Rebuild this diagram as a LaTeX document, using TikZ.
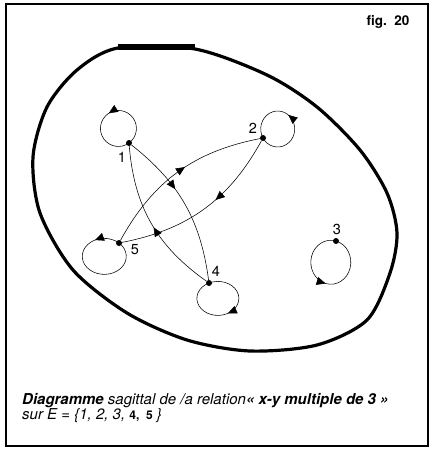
\documentclass[tikz,border=0pt]{standalone}
\usepackage{fontspec}
\setmainfont{TeX Gyre Heros}
\usetikzlibrary{arrows.meta,decorations.markings}

\tikzset{
  dot/.style={circle,fill,inner sep=0pt,minimum size=6pt},
  lab/.style={font=\fontsize{14.5}{14.5}\selectfont,inner sep=0pt},
  rel/.style={line width=0.55pt},
  tip/.style={postaction={decorate},decoration={markings,
    mark=at position #1 with {\arrow{Triangle[length=9pt,width=8pt]}}}}
}

\begin{document}
\begin{tikzpicture}[x=1pt,y=-1pt]
  \useasboundingbox (0,0) rectangle (433,449);
  \draw[line width=2pt] (6,4) rectangle (428,446);
  % the set E
  \draw[line width=3.2pt] plot[smooth cycle] coordinates {(118,48) (195,49) (267,75)
    (317,107) (360,150) (387,193) (397,233) (390,273) (367,320) (317,345)
    (250,351) (187,340) (127,313) (73,270) (40,213) (33,157) (47,107) (77,70)};
  \draw[line width=6pt] (118,47) -- (195,47);
  % elements
  \node[dot] (n1) at (129,143) {};
  \node[dot] (n2) at (263,138) {};
  \node[dot] (n3) at (336,241) {};
  \node[dot] (n4) at (209,283) {};
  \node[dot] (n5) at (119,243) {};
  \node[lab] (l1) at (122,157) {1};
  \node[lab] (l2) at (253,128) {2};
  \node[lab] (l3) at (337,229) {3};
  \node[lab] (l4) at (216,271) {4};
  \node[lab] (l5) at (135,250) {5};
  % loops
  \draw[rel,tip=0.49] (n1.center) arc[start angle=54,delta angle=-360,x radius=18,y radius=18];
  \draw[rel,tip=0.56] (n2.center) arc[start angle=150,delta angle=-360,x radius=17,y radius=18];
  \draw[rel,tip=0.50] (n3.center) arc[start angle=-75,delta angle=-360,x radius=20,y radius=22];
  \draw[rel,tip=0.49] (n4.center) arc[start angle=-115,delta angle=360,x radius=21,y radius=17];
  \draw[rel,tip=0.20] (n5.center) arc[start angle=-48,delta angle=-360,x radius=22,y radius=18];
  % x R y
  \draw[rel,tip=0.39] (n1) to[bend left=22] (n4);
  \draw[rel,tip=0.47] (n4) to[bend left=25] (n1);
  \draw[rel,tip=0.55] (n5) to[bend left=25] (n2);
  \draw[rel,tip=0.42] (n2) to[bend left=25] (n5);
  % texts
  \node[anchor=base east,font=\fontsize{13.5}{13.5}\selectfont\bfseries] (fig) at (413,26) {fig.~~20};
  \node[anchor=base west,inner sep=0pt,font=\fontsize{15}{15}\selectfont\itshape] (cap1) at (22,404)
    {\bfseries Diagramme \mdseries sagittal de /a relation\bfseries« x-y multiple de 3~»};
  \node[anchor=base west,inner sep=0pt,font=\fontsize{15}{15}\selectfont\itshape] (cap2) at (22,419)
    {sur E = \{1, 2, 3, {\upshape\bfseries\fontsize{12}{12}\selectfont 4,~~5} \}};
\end{tikzpicture}
\end{document}
